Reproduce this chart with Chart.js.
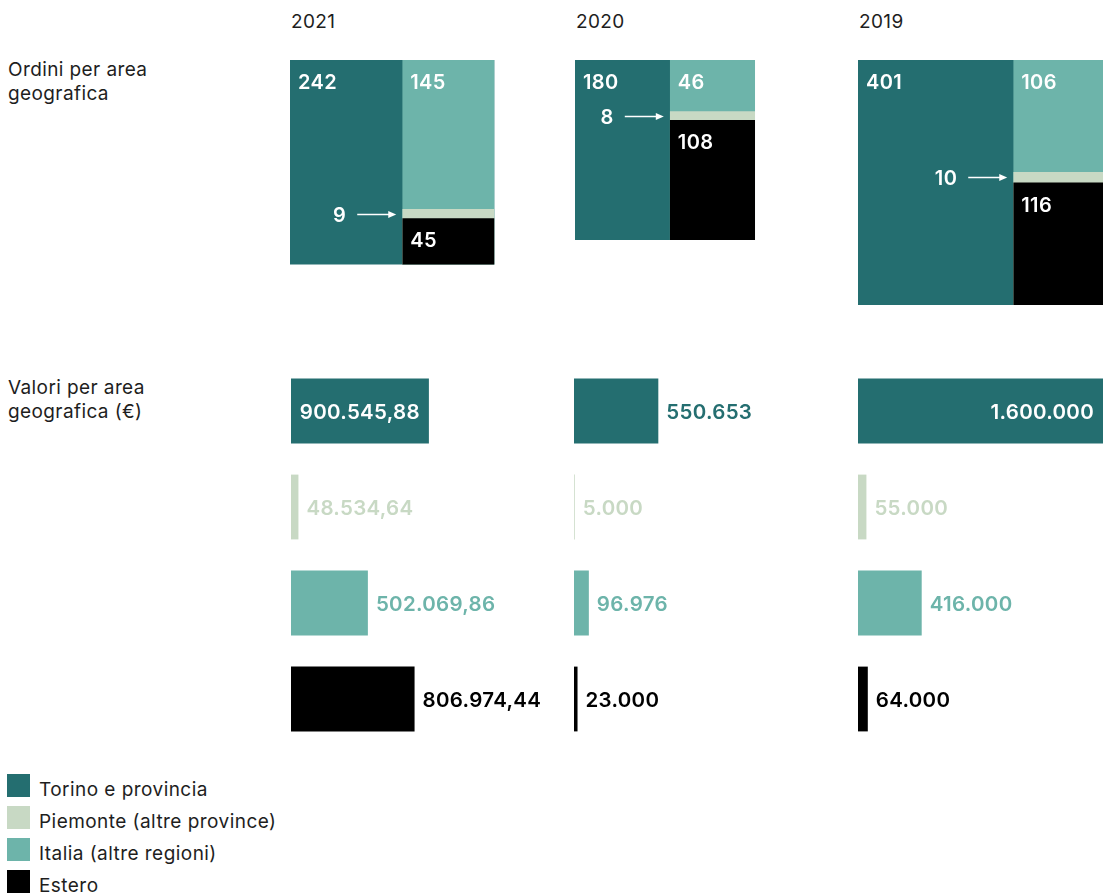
<!DOCTYPE html>
<html><head><meta charset="utf-8">
<script src="https://cdn.jsdelivr.net/npm/chart.js@4.4.1/dist/chart.umd.min.js"></script>
<style>
body{margin:0;background:#fff;font-family:Inter,sans-serif;color:#1e1e1e;}
#page{position:relative;width:1106px;height:896px;overflow:hidden;}
.abs{position:absolute;}
.year{font-size:19px;line-height:23px;top:10px;letter-spacing:0.4px;}
.rowlbl{left:8px;font-size:19px;line-height:24px;letter-spacing:0.4px;}
.leg{left:7px;height:23px;width:320px;}
.leg i{position:absolute;left:0;top:0;width:23px;height:23px;}
.leg span{position:absolute;left:32px;top:4px;font-size:19px;line-height:23px;white-space:nowrap;letter-spacing:0.45px;}
canvas{display:block;}
</style></head>
<body><div id="page">
<div class="abs rowlbl" style="top:58px">Ordini per area<br>geografica</div>
<div class="abs rowlbl" style="top:376px">Valori per area<br>geografica (€)</div>
</div>
<script>
const years = ['2021', '2020', '2019'];
const areas = ['Torino e provincia', 'Piemonte (altre province)', 'Italia (altre regioni)', 'Estero'];
const ordiniTorino = [242, 180, 401];
const ordiniPiemonte = [9, 8, 10];
const ordiniItalia = [145, 46, 106];
const ordiniEstero = [45, 108, 116];
const valoriTorino = [900545.88, 550653, 1600000];
const valoriPiemonte = [48534.64, 5000, 55000];
const valoriItalia = [502069.86, 96976, 416000];
const valoriEstero = [806974.44, 23000, 64000];
const areaColors = ['#246e70', '#c8d9c4', '#6db4aa', '#000000'];

const colLeft = [290, 575, 858];
const barLeft = [291, 574, 858];
const SQ_MAX = 25.67;        // sqrt-count units shown across a 250px mosaic canvas
const FONT = 'Inter, sans-serif';

function fmtIt(v) {
  const hasDec = Math.round(v * 100) % 100 !== 0;
  let parts = v.toFixed(hasDec ? 2 : 0).split('.');
  let i = parts[0].replace(/\B(?=(\d{3})+(?!\d))/g, '.');
  return i + (parts[1] ? ',' + parts[1] : '');
}

const page = document.getElementById('page');

years.forEach((y, i) => {
  const d = document.createElement('div');
  d.className = 'abs year';
  d.style.left = (colLeft[i] + 1) + 'px';
  d.textContent = y;
  page.appendChild(d);
});

areas.forEach((a, i) => {
  const d = document.createElement('div');
  d.className = 'abs leg';
  d.style.top = (774 + 32 * i) + 'px';
  d.innerHTML = '<i style="background:' + areaColors[i] + '"></i><span>' + a + '</span>';
  page.appendChild(d);
});

Chart.defaults.font.family = FONT;
Chart.defaults.animation = false;

// A rectangle drawn as a flat line filled down to a value on the y scale.
// Lower layers extend under the ones above them so no seams appear; the label
// range (lblY0..lblY1, lblX0) is the visible cell computed from the data.
function rectDataset(x0, x1, y0, y1, color, label, kind, lblX0, lblY0, lblY1) {
  return {
    type: 'line',
    data: [{ x: x0, y: y0 }, { x: x1, y: y0 }],
    fill: { value: y1 },
    backgroundColor: color,
    borderColor: color,
    borderWidth: 0,
    pointRadius: 0,
    pointHoverRadius: 0,
    tension: 0,
    lblText: label,
    lblKind: kind,
    lblX0: lblX0, lblY0: lblY0, lblY1: lblY1
  };
}

const mosaicLabels = {
  id: 'mosaicLabels',
  afterDatasetsDraw(chart) {
    const ctx = chart.ctx, x = chart.scales.x, y = chart.scales.y;
    ctx.save();
    ctx.font = '600 20px ' + FONT;
    if ('letterSpacing' in ctx) ctx.letterSpacing = '0.4px';
    ctx.fillStyle = '#fff';
    ctx.strokeStyle = '#fff';
    chart.data.datasets.forEach(ds => {
      const px0 = x.getPixelForValue(ds.lblX0);
      const py0 = y.getPixelForValue(ds.lblY0);
      const py1 = y.getPixelForValue(ds.lblY1);
      if (ds.lblKind === 'arrow') {
        const cy = Math.round((py0 + py1) / 2) + 0.5;
        ctx.lineWidth = 1.5;
        ctx.beginPath(); ctx.moveTo(px0 - 45, cy); ctx.lineTo(px0 - 12, cy); ctx.stroke();
        ctx.beginPath(); ctx.moveTo(px0 - 6, cy); ctx.lineTo(px0 - 14, cy - 3.5); ctx.lineTo(px0 - 14, cy + 3.5); ctx.closePath(); ctx.fill();
        ctx.textAlign = 'right';
        ctx.fillText(ds.lblText, px0 - 56, cy + 7);
      } else {
        ctx.textAlign = 'left';
        ctx.fillText(ds.lblText, px0 + 8, py0 + 29);
      }
    });
    ctx.restore();
  }
};

const barLabels = {
  id: 'barLabels',
  afterDatasetsDraw(chart) {
    const ctx = chart.ctx;
    const meta = chart.getDatasetMeta(0);
    const ds = chart.data.datasets[0];
    ctx.save();
    ctx.font = '600 20.5px ' + FONT;
    if ('letterSpacing' in ctx) ctx.letterSpacing = '0.3px';
    meta.data.forEach((bar, j) => {
      const txt = fmtIt(ds.data[j]);
      const w = ctx.measureText(txt).width;
      const bw = bar.x - bar.base;
      if (w + 16 <= bw) {
        ctx.fillStyle = '#fff'; ctx.textAlign = 'right';
        ctx.fillText(txt, bar.x - 9, bar.y + 7.5);
      } else {
        ctx.fillStyle = ds.backgroundColor[j]; ctx.textAlign = 'left';
        ctx.fillText(txt, bar.x + 8, bar.y + 7.5);
      }
    });
    ctx.restore();
  }
};

const maxValore = Math.max(...valoriTorino, ...valoriPiemonte, ...valoriItalia, ...valoriEstero);

years.forEach((yr, i) => {
  // ---- mosaic of orders (area of the square ∝ total orders) ----
  const t = ordiniTorino[i], p = ordiniPiemonte[i], it = ordiniItalia[i], e = ordiniEstero[i];
  const total = t + p + it + e;
  const side = Math.sqrt(total);
  const wT = side * t / total;
  const rest = p + it + e;
  const hI = side * it / rest, hP = side * p / rest;
  // dataset 0 is drawn on top
  const ds = [
    rectDataset(wT, side, hI + hP, side, areaColors[3], String(e), 'top', wT, hI + hP, side),
    rectDataset(wT, side, hI, side, areaColors[1], String(p), 'arrow', wT, hI, hI + hP),
    rectDataset(wT, side, 0, side, areaColors[2], String(it), 'top', wT, 0, hI),
    rectDataset(0, side, 0, side, areaColors[0], String(t), 'top', 0, 0, side)
  ];
  const c1 = document.createElement('canvas');
  c1.width = 250; c1.height = 250;
  c1.className = 'abs';
  c1.style.left = colLeft[i] + 'px'; c1.style.top = '60px';
  page.appendChild(c1);
  new Chart(c1, {
    type: 'line',
    data: { datasets: ds },
    options: {
      responsive: false,
      layout: { padding: 0 },
      plugins: { legend: { display: false }, tooltip: { enabled: false } },
      scales: {
        x: { type: 'linear', min: 0, max: SQ_MAX, display: false },
        y: { type: 'linear', min: 0, max: SQ_MAX, reverse: true, display: false }
      }
    },
    plugins: [mosaicLabels]
  });

  // ---- bars of values ----
  const c2 = document.createElement('canvas');
  c2.width = 275; c2.height = 384;
  c2.className = 'abs';
  c2.style.left = barLeft[i] + 'px'; c2.style.top = '363px';
  page.appendChild(c2);
  new Chart(c2, {
    type: 'bar',
    data: {
      labels: areas,
      datasets: [{
        data: [valoriTorino[i], valoriPiemonte[i], valoriItalia[i], valoriEstero[i]],
        backgroundColor: areaColors,
        barPercentage: 0.675,
        categoryPercentage: 1,
        borderWidth: 0
      }]
    },
    options: {
      indexAxis: 'y',
      responsive: false,
      layout: { padding: { left: 0, right: 30, top: 0, bottom: 0 } },
      plugins: { legend: { display: false }, tooltip: { enabled: false } },
      scales: {
        x: { type: 'linear', min: 0, max: maxValore, display: false },
        y: { type: 'category', display: false }
      }
    },
    plugins: [barLabels]
  });
});
</script>
</body></html>
